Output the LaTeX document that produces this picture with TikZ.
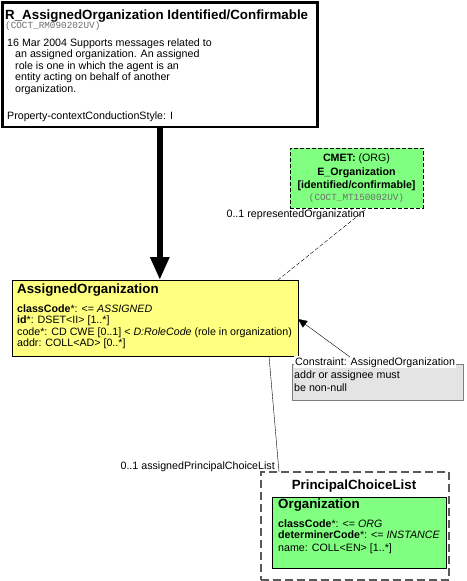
\documentclass[tikz,border=0pt]{standalone}
\usepackage{fontspec}
\setmainfont{Liberation Sans}
\newfontfamily\monof{Liberation Mono}
\usetikzlibrary{arrows.meta,calc}
\definecolor{clsyellow}{RGB}{255,255,128}
\definecolor{clsgreen}{RGB}{128,255,128}
\definecolor{cnsgray}{RGB}{228,228,228}
\definecolor{monogray}{RGB}{110,110,110}
\begin{document}
\begin{tikzpicture}[x=1pt,y=-1pt,
  box/.style={draw, anchor=north west, inner sep=0pt, outer sep=0pt},
  txt/.style={anchor=base west, inner sep=0pt, font=\fontsize{10.67}{12}\selectfont},
  ttl/.style={anchor=base west, inner sep=0pt, font=\fontsize{13.33}{15}\selectfont\bfseries},
  mono/.style={anchor=base west, inner sep=0pt, text=monogray, font=\fontsize{9.33}{10}\monof},
  ctr/.style={anchor=base, inner sep=0pt, font=\fontsize{10.67}{12}\selectfont\bfseries}]
\useasboundingbox (0,0) rectangle (466,581);

% top box
\node[box, line width=2.6pt, fill=white, minimum width=315pt, minimum height=124.5pt] (top) at (2.3,2.3) {};
\node[ttl] (ttop) at (5,19) {R\_AssignedOrganization Identified/Confirmable};
\node[mono] (mtop) at (5,28) {(COCT\_RM090202UV)};
\node[txt] (b1) at (7,46) {16 Mar 2004 Supports messages related to};
\node[txt] (b2) at (15,57.5) {an assigned organization. An assigned};
\node[txt] (b3) at (15,69) {role is one in which the agent is an};
\node[txt] (b4) at (15,80.5) {entity acting on behalf of another};
\node[txt] (b5) at (15,92) {organization.};
\node[txt] (b6) at (7,119) {Property-contextConductionStyle: I};

% CMET box
\node[box, dash pattern=on 4pt off 2pt, fill=clsgreen, minimum width=133pt, minimum height=60pt] (cmet) at (290,148) {};
\node[anchor=base, inner sep=0pt, font=\fontsize{10.67}{12}\selectfont] (c1) at (356.5,161) {\textbf{CMET:} (ORG)};
\node[ctr] (c2) at (356.5,175.5) {E\_Organization};
\node[ctr] (c3) at (356.5,188) {[identified/confirmable]};
\node[anchor=base, inner sep=0pt, text=monogray, font=\fontsize{9.33}{10}\monof] (c4) at (356.5,200) {(COCT\_MT150002UV)};

% yellow class
\node[box, fill=clsyellow, minimum width=286pt, minimum height=76pt] (ao) at (12,280) {};
\node[ttl] (aot) at (17,293) {AssignedOrganization};
\node[txt] (a1) at (17,312) {\textbf{classCode}*: <= \textit{ASSIGNED}};
\node[txt] (a2) at (17,323.5) {\textbf{id}*: DSET<II> [1..*]};
\node[txt] (a3) at (17,335) {code*: CD CWE [0..1] < \textit{D:RoleCode} (role in organization)};
\node[txt] (a4) at (17,346.5) {addr: COLL<AD> [0..*]};

% constraint
\node[box, draw=black!50, fill=cnsgray, minimum width=171pt, minimum height=36pt] (cons) at (292,364) {};
\node[anchor=base west, inner sep=1pt, fill=white, font=\fontsize{10.67}{12}\selectfont] (cl) at (294,365) {Constraint: AssignedOrganization};
\node[txt] (cl1) at (294,378) {addr or assignee must};
\node[txt] (cl2) at (294,391) {be non-null};

% principal choice list
\node[box, dash pattern=on 8pt off 4pt, draw=black!65, line width=1.5pt, minimum width=188pt, minimum height=108pt] (pcl) at (261,472) {};
\node[anchor=base, inner sep=0pt, font=\fontsize{13.33}{15}\selectfont\bfseries] (pclt) at (354,489) {PrincipalChoiceList};
\node[box, fill=clsgreen, minimum width=174pt, minimum height=71pt] (org) at (272,497) {};
\node[ttl] (orgt) at (278,508) {Organization};
\node[txt] (o1) at (278,527) {\textbf{classCode}*: <= \textit{ORG}};
\node[txt] (o2) at (278,538.5) {\textbf{determinerCode}*: <= \textit{INSTANCE}};
\node[txt] (o3) at (278,551) {name: COLL<EN> [1..*]};

% connectors
\draw[line width=6pt, -{Triangle[length=23pt,width=18pt]}] (top.south) -- (top.south |- ao.north);

\coordinate (cmetend) at (365,210);
\coordinate (aoend) at (278,280);
\draw[dash pattern=on 4pt off 2pt] (cmetend) -- (aoend);
\node[anchor=base east, inner sep=0pt, font=\fontsize{10.67}{12}\selectfont] (rl) at (365,217) {0..1 representedOrganization};

\coordinate (consstart) at (350,357);
\coordinate (aoright) at (298,319);
\draw[-{Triangle[length=9pt,width=8pt]}] (consstart) -- (aoright);

\coordinate (aobot) at (269,356);
\coordinate (pcltop) at (279,472);
\draw (aobot) -- (pcltop);
\node[anchor=base east, inner sep=0pt, font=\fontsize{10.67}{12}\selectfont] (pl) at (275,469) {0..1 assignedPrincipalChoiceList};
\end{tikzpicture}
\end{document}
